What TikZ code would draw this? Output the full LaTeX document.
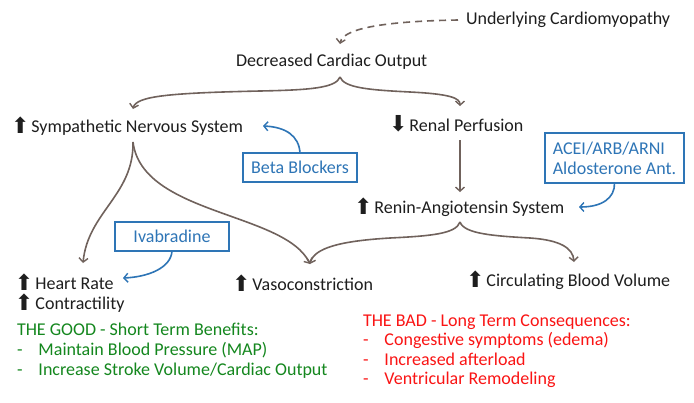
\documentclass[tikz,border=0pt]{standalone}
\usepackage{fontspec}
\setmainfont{Carlito}
\newfontfamily\symfont{DejaVu Sans}
\usetikzlibrary{arrows.meta}
\definecolor{linkbrown}{RGB}{112,98,92}
\definecolor{drugblue}{RGB}{46,117,182}
\definecolor{goodgreen}{RGB}{20,135,30}
\definecolor{badred}{RGB}{250,20,20}
\definecolor{textdark}{RGB}{30,30,30}
\newcommand{\upmark}{\raisebox{-1pt}{\symfont\fontsize{22}{22}\selectfont ⬆}\hspace{2pt}}
\newcommand{\downmark}{\raisebox{0pt}{\symfont\fontsize{22}{22}\selectfont ⬇}\hspace{2pt}}
\begin{document}
\begin{tikzpicture}[x=1pt,y=-1pt,
  every node/.style={inner sep=0pt, outer sep=0pt, text=textdark,
    font=\fontsize{18}{22}\selectfont},
  label/.style={anchor=west},
  drugbox/.style={draw=drugblue, line width=1.1pt, text=drugblue,
    inner xsep=6pt, inner ysep=4pt, anchor=north west},
  flow/.style={draw=linkbrown, line width=1.6pt,
    -{Straight Barb[length=4pt,width=9pt,line width=1.4pt]}},
  druglink/.style={draw=drugblue, line width=1.6pt,
    -{Straight Barb[length=4pt,width=9pt,line width=1.4pt]}},
  listblock/.style={anchor=north west, align=left}
]
\useasboundingbox[fill=white] (0,0) rectangle (694,402);

% main chain of labels
\node[label] (ucm) at (466,20) {Underlying Cardiomyopathy};
\node[label] (dco) at (236,62) {Decreased Cardiac Output};
\node[label] (sns) at (11,126) {\upmark Sympathetic Nervous System};
\node[label] (rp)  at (389,124) {\downmark Renal Perfusion};
\node[label] (ras) at (354,207) {\upmark Renin-Angiotensin System};
\node[label] (hr)  at (15,282) {\upmark Heart Rate};
\node[label] (con) at (15,303) {\upmark Contractility};
\node[label] (vc)  at (232,283) {\upmark Vasoconstriction};
\node[label] (cbv) at (466,280) {\upmark Circulating Blood Volume};

% drug boxes
\node[drugbox, minimum width=114pt, minimum height=29pt, align=center, anchor=center]
  (bb) at (300,167.5) {Beta Blockers};
\node[drugbox, minimum width=139pt, minimum height=50pt, align=left, anchor=center]
  (acei) at (614.5,158) {ACEI/ARB/ARNI\\[-2pt]Aldosterone Ant.};
\node[drugbox, minimum width=114pt, minimum height=29pt, align=center, anchor=center]
  (iva) at (172,236.5) {Ivabradine};

% outcome lists
\node[listblock, text=goodgreen] (good) at (17,320) {%
  \begin{tabular}{@{}l@{\hspace{16pt}}l@{}}
  \multicolumn{2}{@{}l}{THE GOOD - Short Term Benefits:}\\[-2pt]
  - & Maintain Blood Pressure (MAP)\\[-2pt]
  - & Increase Stroke Volume/Cardiac Output
  \end{tabular}};
\node[listblock, text=badred] (bad) at (363,311) {%
  \begin{tabular}{@{}l@{\hspace{16pt}}l@{}}
  \multicolumn{2}{@{}l}{THE BAD - Long Term Consequences:}\\[-2.5pt]
  - & Congestive symptoms (edema)\\[-2.5pt]
  - & Increased afterload\\[-2.5pt]
  - & Ventricular Remodeling
  \end{tabular}};

% branching points
\coordinate (dcoTip) at (340,77);
\coordinate (snsIn) at (133,109);
\coordinate (rpIn) at (460,106);
\coordinate (snsOut) at (133,142);
\coordinate (hrIn) at (83,263);
\coordinate (vcIn) at (310,264);
\coordinate (rpOut) at (460,140);
\coordinate (rasIn) at (460,192);
\coordinate (rasOut) at (460,222);
\coordinate (cbvIn) at (574,262);
\coordinate (ucmOut) at (458,20);
\coordinate (dcoIn) at (340,44);

% dashed link from the cause
\draw[flow, dashed, dash pattern=on 7pt off 5pt] (ucmOut)
  .. controls (400,21) and (343,26) .. (dcoIn);

% brace below cardiac output
\draw[flow] (dcoTip) .. controls (336,88) and (310,90) .. (260,91)
  .. controls (170,93) and (136,96) .. (snsIn);
\draw[flow] (dcoTip) .. controls (344,88) and (370,90) .. (410,92)
  .. controls (450,94) and (460,98) .. (rpIn);

% sympathetic branches
\draw[flow] (snsOut) .. controls (134,195) and (88,212) .. (hrIn);
\draw[flow] (snsOut) .. controls (142,215) and (285,212) .. (vcIn);

% renal to RAS
\draw[flow] (rpOut) -- (rasIn);

% brace below RAS
\draw[flow] (rasOut) .. controls (456,234) and (430,236) .. (390,238)
  .. controls (340,241) and (314,248) .. (vcIn);
\draw[flow] (rasOut) .. controls (464,234) and (495,236) .. (530,238)
  .. controls (560,240) and (573,248) .. (cbvIn);

% drug actions
\draw[druglink] (bb.north) .. controls (299,136) and (286,127) .. (263,126);
\draw[druglink] (acei.south) .. controls (615,198) and (602,207) .. (579,207);
\draw[druglink] (iva.south) .. controls (171,268) and (148,277) .. (123,278);
\end{tikzpicture}
\end{document}
